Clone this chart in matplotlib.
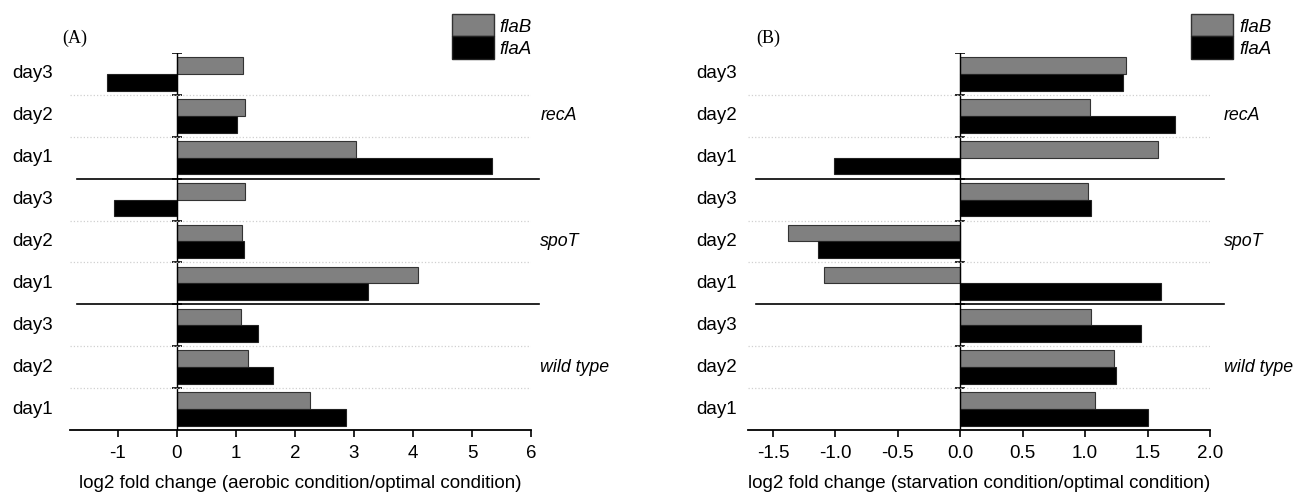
import numpy as np
import matplotlib
matplotlib.use("Agg")
import matplotlib.pyplot as plt
from matplotlib.patches import Patch

plt.rcParams['font.family'] = ['Liberation Sans', 'DejaVu Sans']

# rows from bottom to top
days = ['day1', 'day2', 'day3', 'day1', 'day2', 'day3', 'day1', 'day2', 'day3']
strains = ['wild type', 'spoT', 'recA']

aero_flaB = [2.25, 1.20, 1.09, 4.08, 1.10, 1.16, 3.03, 1.16, 1.12]
aero_flaA = [2.87, 1.63, 1.38, 3.24, 1.13, -1.06, 5.34, 1.02, -1.18]

starv_flaB = [1.08, 1.23, 1.05, -1.09, -1.38, 1.02, 1.58, 1.04, 1.33]
starv_flaA = [1.50, 1.25, 1.45, 1.61, -1.14, 1.05, -1.01, 1.72, 1.30]

grey = '#808080'
fs = 13.5


def draw_panel(ax, flaB, flaA, xlim, xticks, xticklabels, xlabel, tag, tag_x,
               sep_span, strain_x, leg_x, label_pad):
    y = np.arange(len(days))
    ax.barh(y + 0.2, flaB, height=0.4, color=grey, edgecolor='#333333', linewidth=0.8, label='flaB')
    ax.barh(y - 0.2, flaA, height=0.4, color='black', edgecolor='#222222', linewidth=0.8, label='flaA')

    ax.set_xlim(xlim)
    ax.set_ylim(-0.5, 8.5)
    ax.set_xticks(xticks)
    ax.set_xticklabels(xticklabels, fontsize=fs)
    ax.tick_params(axis='x', direction='out', length=5, width=1.2, pad=6)
    ax.set_xlabel(xlabel, fontsize=fs, labelpad=9)

    for s in ['top', 'right', 'left']:
        ax.spines[s].set_visible(False)
    ax.spines['bottom'].set_linewidth(1.3)

    ax.set_yticks([])
    for i, d in enumerate(days):
        ax.text(-label_pad, i, d, transform=ax.get_yaxis_transform(), ha='right', va='center', fontsize=fs)

    # zero line with small boundary ticks
    ax.axvline(0, color='black', linewidth=1.0)
    bounds = np.arange(-0.5, 9, 1.0)[1:]
    ax.plot(np.zeros(len(bounds)), bounds, linestyle='none', marker='_', markersize=7,
            color='black', markeredgewidth=1.2)

    # dotted separators between days
    for b in [0.5, 1.5, 3.5, 4.5, 6.5, 7.5]:
        ax.axhline(b, color='#d0d0d0', linestyle=':', linewidth=0.9)
    # solid separators between strains
    for b in [2.5, 5.5]:
        ax.axhline(b, xmin=sep_span[0], xmax=sep_span[1], color='black', linewidth=1.2, clip_on=False)

    for k, st in enumerate(strains):
        ax.text(strain_x, 3 * k + 1, st, transform=ax.get_yaxis_transform(), ha='left', va='center',
                fontsize=12.8, style='italic')

    ax.text(tag_x, 1.04, tag, transform=ax.transAxes, fontsize=13, family='Liberation Serif',
            ha='left', va='center')

    handles = [Patch(facecolor=grey, edgecolor='#333333'), Patch(facecolor='black', edgecolor='#222222')]
    leg = ax.legend(handles, ['flaB', 'flaA'], loc='upper left', bbox_to_anchor=(leg_x, 1.103),
                    frameon=False, fontsize=fs, handlelength=2.25, handleheight=1.45,
                    labelspacing=0.0, handletextpad=0.3, borderaxespad=0, borderpad=0)
    for t in leg.get_texts():
        t.set_style('italic')


fig = plt.figure(figsize=(12.95, 4.93), dpi=100)
axA = fig.add_axes([0.0541, 0.1278, 0.356, 0.7647])
axB = fig.add_axes([0.5776, 0.1278, 0.3568, 0.7647])

draw_panel(axA, aero_flaB, aero_flaA, (-1.81, 6.0), [-1, 0, 1, 2, 3, 4, 5, 6],
           ['-1', '0', '1', '2', '3', '4', '5', '6'],
           'log2 fold change (aerobic condition/optimal condition)', '(A)', -0.018,
           (0.015, 1.017), 1.02, 0.828, 0.037)
draw_panel(axB, starv_flaB, starv_flaA, (-1.70, 2.0), [-1.5, -1.0, -0.5, 0.0, 0.5, 1.0, 1.5, 2.0],
           ['-1.5', '-1.0', '-0.5', '0.0', '0.5', '1.0', '1.5', '2.0'],
           'log2 fold change (starvation condition/optimal condition)', '(B)', 0.017,
           (0.017, 1.03), 1.03, 0.959, 0.024)

fig.savefig('out.png', dpi=100)
